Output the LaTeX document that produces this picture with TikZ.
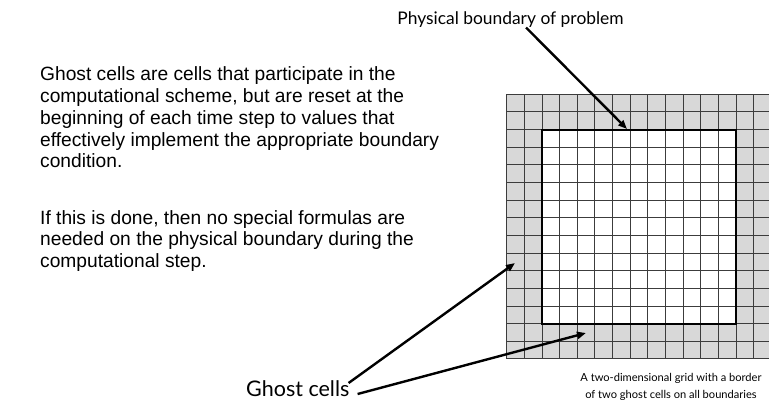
\documentclass[tikz,border=0pt]{standalone}
\usepackage{fontspec}
\setmainfont{Liberation Sans}
\newfontfamily\gill{Lato}
\usetikzlibrary{arrows.meta}
\definecolor{ghostgrey}{RGB}{216,216,216}
\definecolor{gridline}{RGB}{60,60,60}
\tikzset{
  para/.style={anchor=north west, inner sep=0pt, align=left, font=\fontsize{19.2}{21.8}\selectfont},
  lbl/.style={inner sep=0pt, font=\gill\fontsize{17.4}{20}\selectfont},
  bigl/.style={inner sep=0pt, font=\gill\fontsize{21.5}{24}\selectfont},
  captext/.style={inner sep=0pt, align=center, font=\gill\fontsize{11.1}{17}\selectfont},
  pointer/.style={line width=2.4pt, -{Triangle[length=9pt,width=7pt]}}
}
\begin{document}
\begin{tikzpicture}[x=1pt,y=-1pt]
\useasboundingbox (0,0) rectangle (769,408);
\def\cs{17.64}
\begin{scope}
\clip (0,0) rectangle (769,408);
\fill[ghostgrey] (506.7,94.3) rectangle ({506.7+15*\cs},{94.3+15*\cs});
\fill[white] ({506.7+2*\cs},{94.3+2*\cs}) rectangle ({506.7+13*\cs},{94.3+13*\cs});
\foreach \i in {0,...,15} {
  \draw[gridline, line width=0.9pt] ({506.7+\i*\cs},94.3) -- ({506.7+\i*\cs},{94.3+15*\cs});
  \draw[gridline, line width=0.9pt] (506.7,{94.3+\i*\cs}) -- ({506.7+15*\cs},{94.3+\i*\cs});
}
\draw[black, line width=2pt] ({506.7+2*\cs},{94.3+2*\cs}) rectangle ({506.7+13*\cs},{94.3+13*\cs});
\end{scope}

\node[para] (p1) at (40,66.5) {Ghost cells are cells that participate in the\\
computational scheme, but are reset at the\\
beginning of each time step to values that\\
effectively implement the appropriate boundary\\
condition.};
\node[para] (p2) at (40,210) {If this is done, then no special formulas are\\
needed on the physical boundary during the\\
computational step.};

\node[lbl, anchor=base] (phys) at (510.5,24) {Physical boundary of problem};
\node[bigl, anchor=base west] (ghost) at (246,396) {Ghost cells};
\node[captext, anchor=base] (cap1) at (671,381) {A two-dimensional grid with a border};
\node[captext, anchor=base] (cap2) at (671,398) {of two ghost cells on all boundaries};

\coordinate (topb) at (627,129);
\coordinate (leftg) at (515,263);
\coordinate (botg) at (586,333);
\draw[pointer] (526,27.5) -- (topb);
\draw[pointer] ([xshift=-1pt,yshift=13pt]ghost.base east) -- (leftg);
\draw[pointer] ([xshift=8pt,yshift=2pt]ghost.base east) -- (botg);
\end{tikzpicture}
\end{document}
